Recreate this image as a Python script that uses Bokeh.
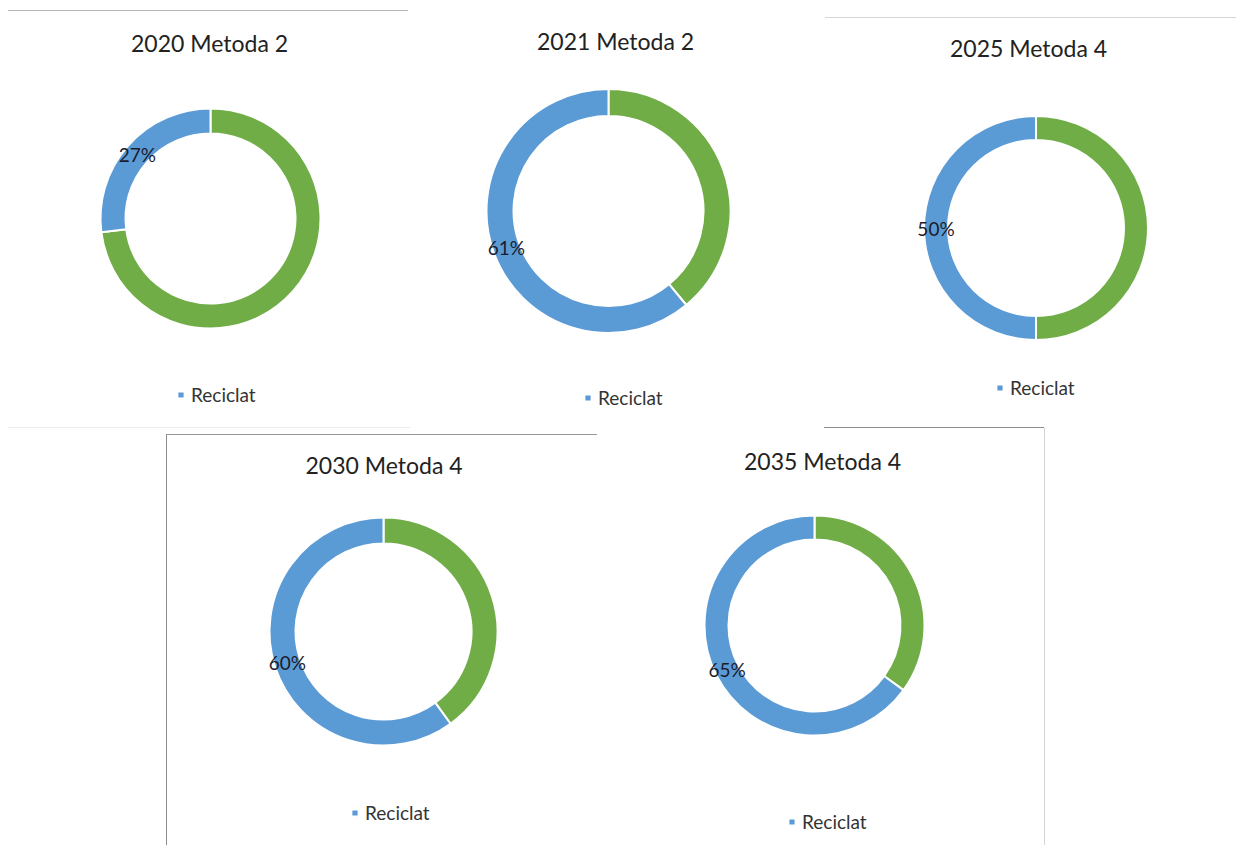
import math
from bokeh.plotting import figure
from bokeh.models import Range1d, Legend, LegendItem, ColumnDataSource, Spacer
from bokeh.layouts import row, column
from bokeh.core.properties import value
from bokeh.embed import file_html
from bokeh.resources import INLINE

# ---------------- data ----------------
years = ["2020", "2021", "2025", "2030", "2035"]
methods = ["Metoda 2", "Metoda 2", "Metoda 4", "Metoda 4", "Metoda 4"]
categories = ["Nereciclat", "Reciclat"]
nereciclat = [73, 39, 50, 40, 35]
reciclat = [27, 61, 50, 60, 65]

# ---------------- styles / layout ----------------
COLORS = {"Nereciclat": "#70AD47", "Reciclat": "#5B9BD5"}
FONT = "Lato"

# w,h: figure size; T: space above frame; cx: donut centre from figure left;
# cy: donut centre from frame top; ro/ri: radii; leg: legend offset; st: title standoff
specs = [
    dict(w=402, h=416, T=55, cx=202, cy=152, ro=110, ri=85, leg=(168, 21), st=20),
    dict(w=410, h=419, T=56, cx=198, cy=146.5, ro=122, ri=95, leg=(173, 18), st=20),
    dict(w=416, h=405, T=50, cx=215.5, cy=159.5, ro=112, ri=88, leg=(175, 24), st=14),
    dict(w=433, h=410, T=50, cx=216, cy=146, ro=114, ri=88, leg=(183, 21), st=14),
    dict(w=444, h=417, T=56, cx=214, cy=141, ro=110, ri=86, leg=(187, 12), st=20),
]


def hline(w, color):
    return Spacer(width=w, height=1, styles={"background-color": color})


def vline(h, color):
    return Spacer(width=1, height=h, styles={"background-color": color})


def donut(i, s):
    W, H, T = s["w"], s["h"], s["T"]
    fh = H - T
    cx, cy = s["cx"], s["cy"]
    p = figure(width=W, height=H,
               x_range=Range1d(-cx, W - cx),
               y_range=Range1d(-(fh - cy), cy),
               output_backend="svg", toolbar_location=None,
               x_axis_location=None, y_axis_location=None,
               min_border=0, min_border_top=T,
               title=f"{years[i]} {methods[i]}")
    p.xgrid.visible = False
    p.ygrid.visible = False
    p.outline_line_color = None
    p.background_fill_color = "white"
    p.border_fill_color = "white"
    p.title.align = "center"
    p.title.text_font = FONT
    p.title.text_font_size = "23px"
    p.title.text_font_style = "normal"
    p.title.text_color = "#222222"
    p.title.standoff = s["st"]

    vals = {"Nereciclat": nereciclat[i], "Reciclat": reciclat[i]}
    total = sum(vals.values())
    cum = 0.0
    renderers = {}
    fracs = {}
    for cat in categories:
        f0 = cum / total
        cum += vals[cat]
        f1 = cum / total
        fracs[cat] = (f0, f1)
        src = ColumnDataSource(dict(
            x=[0], y=[0],
            start=[math.pi / 2 - 2 * math.pi * f1],
            end=[math.pi / 2 - 2 * math.pi * f0],
        ))
        r = p.annular_wedge(x="x", y="y", inner_radius=s["ri"], outer_radius=s["ro"],
                            inner_radius_units="screen", outer_radius_units="screen",
                            start_angle="start", end_angle="end", direction="anticlock",
                            fill_color=COLORS[cat], line_color="white", line_width=2,
                            source=src)
        renderers[cat] = r

    # data label for Reciclat, centred on its segment
    f0, f1 = fracs["Reciclat"]
    fm = (f0 + f1) / 2
    rm = (s["ro"] + s["ri"]) / 2
    lsrc = ColumnDataSource(dict(
        x=[rm * math.sin(2 * math.pi * fm)],
        y=[rm * math.cos(2 * math.pi * fm)],
        t=[f"{reciclat[i]}%"],
    ))
    p.text(x="x", y="y", text="t", source=lsrc, text_font=value(FONT),
           text_font_size="19px", text_color="#1c1c2c",
           text_align="center", text_baseline="middle")

    leg = Legend(items=[LegendItem(label="Reciclat", renderers=[renderers["Reciclat"]])],
                 location=s["leg"], orientation="horizontal",
                 background_fill_alpha=0, border_line_alpha=0,
                 padding=0, margin=0, glyph_width=9, glyph_height=9,
                 label_standoff=6, label_text_font=FONT, label_text_font_size="19px",
                 label_text_color="#333333", label_text_baseline="middle")
    p.add_layout(leg, "center")
    return p


f1, f2, f3, f4, f5 = [donut(i, s) for i, s in enumerate(specs)]

col1 = column(Spacer(width=402, height=10), hline(400, "#b4b4b4"), f1)
col2 = column(Spacer(width=410, height=8), f2)
col3 = column(Spacer(width=416, height=17),
              row(Spacer(width=5, height=1), hline(411, "#d6d6d6")),
              f3,
              Spacer(width=416, height=4))
top = row(Spacer(width=8, height=427), col1, col2, col3)

left = column(row(Spacer(width=8, height=1), hline(158, "#ececec")),
              Spacer(width=166, height=417))
col4 = column(row(hline(244, "#ececec"), Spacer(width=190, height=1)),
              Spacer(width=434, height=6),
              hline(431, "#999999"),
              row(vline(410, "#8c8c8c"), f4))
col5 = column(row(Spacer(width=224, height=1), hline(220, "#8c8c8c")),
              row(f5, vline(417, "#d4d4d4")))
bottom = row(left, col4, col5)

layout = column(top, bottom)

open("out.html", "w").write(file_html(layout, INLINE))
